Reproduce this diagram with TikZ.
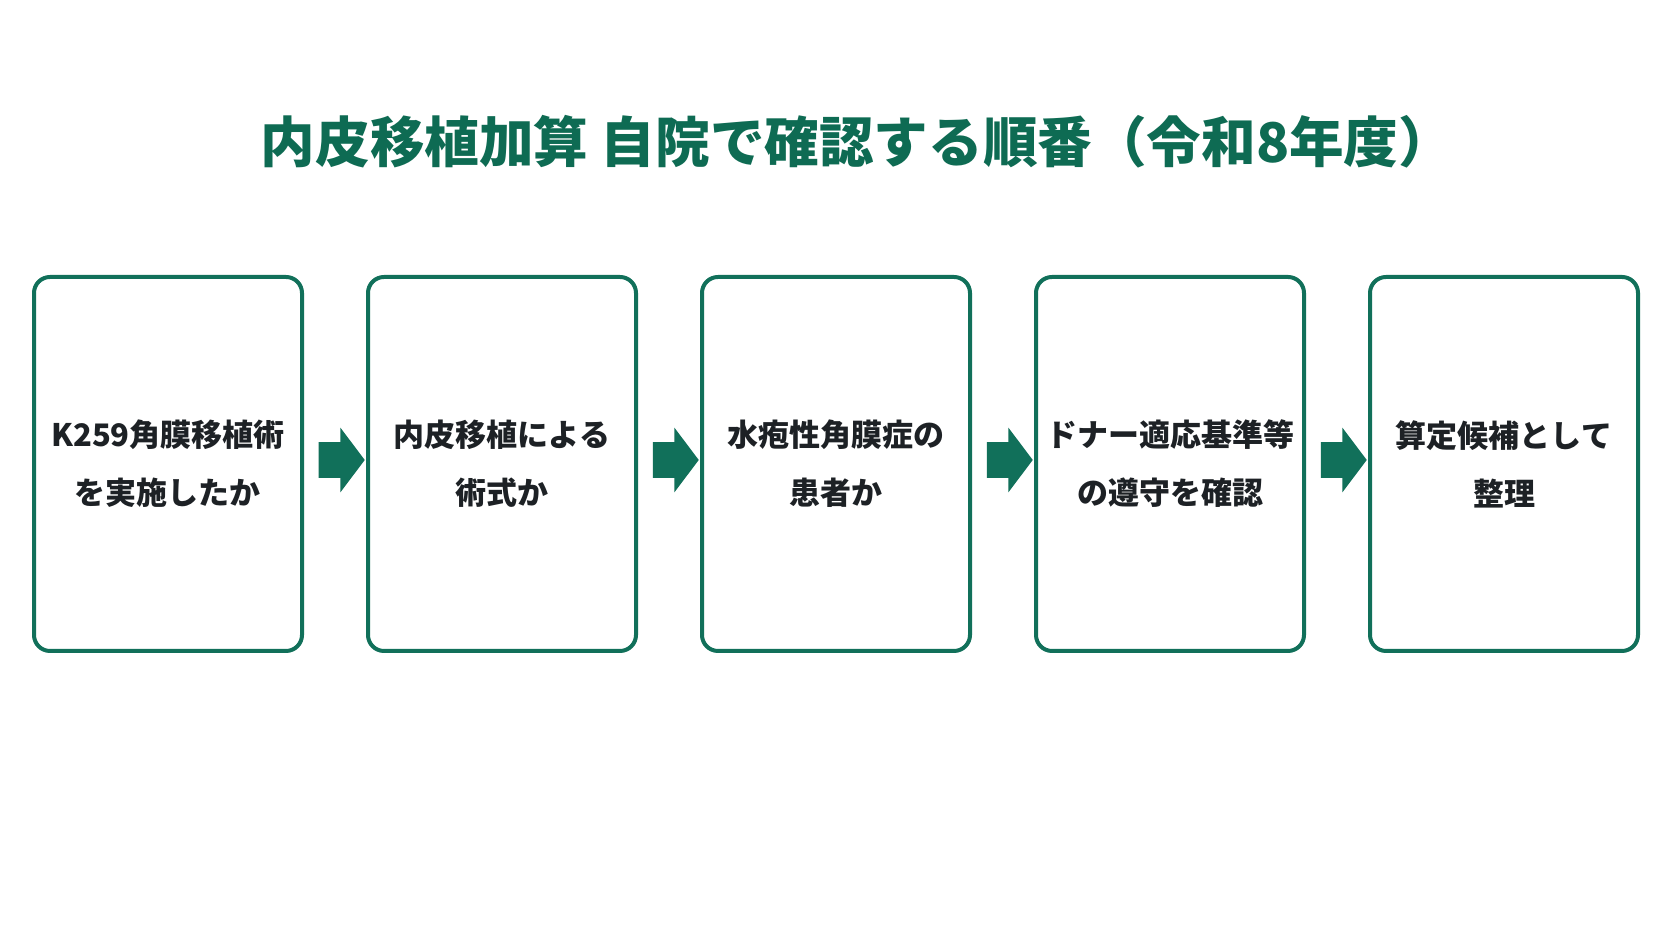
\documentclass[tikz,border=0pt]{standalone}
\usepackage{fontspec}
\setmainfont{Noto Sans CJK JP}
\usepackage{tikz}
\usetikzlibrary{positioning, shapes.arrows, calc}

\definecolor{stepgreen}{HTML}{11705A}
\definecolor{titlegreen}{HTML}{0E6B53}
\definecolor{steptext}{HTML}{1D2125}

\begin{document}
\begin{tikzpicture}[x=0.5pt, y=0.5pt,
    stepbox/.style={draw=stepgreen, line width=2pt, rounded corners=8pt, fill=white,
        minimum width=134pt, minimum height=187pt, inner sep=0pt, outer sep=0pt,
        align=center, text=steptext, font=\fontsize{15.5}{29}\selectfont\bfseries},
    fatarrow/.style={single arrow, fill=stepgreen, draw=none, inner sep=0pt,
        inner ysep=8.75pt, outer sep=0pt,
        minimum height=23pt, minimum width=32pt,
        single arrow head extend=7.25pt, single arrow tip angle=106}
    ]
    \useasboundingbox[fill=white] (0,0) rectangle (1672,941);

    % Title
    \node[text=titlegreen, font=\fontsize{27.3}{31}\selectfont\bfseries] (title) at (857,799)
        {内皮移植加算 自院で確認する順番（令和8年度）};

    % Steps, left to right
    \node[stepbox] (s1) at (168,477) {K259角膜移植術\\を実施したか};
    \node[stepbox, right=33pt of s1] (s2) {内皮移植による\\術式か};
    \node[stepbox, right=33pt of s2] (s3) {水疱性角膜症の\\患者か};
    \node[stepbox, right=33pt of s3] (s4) {ドナー適応基準等\\の遵守を確認};
    \node[stepbox, right=33pt of s4] (s5) {算定候補として\\整理};

    % Arrows between steps
    \foreach \a/\b in {s1/s2, s2/s3, s3/s4, s4/s5}
        \node[fatarrow] (arr-\a) at ($ (\a.east)!0.5!(\b.west) + (0,4) $) {};
\end{tikzpicture}
\end{document}
